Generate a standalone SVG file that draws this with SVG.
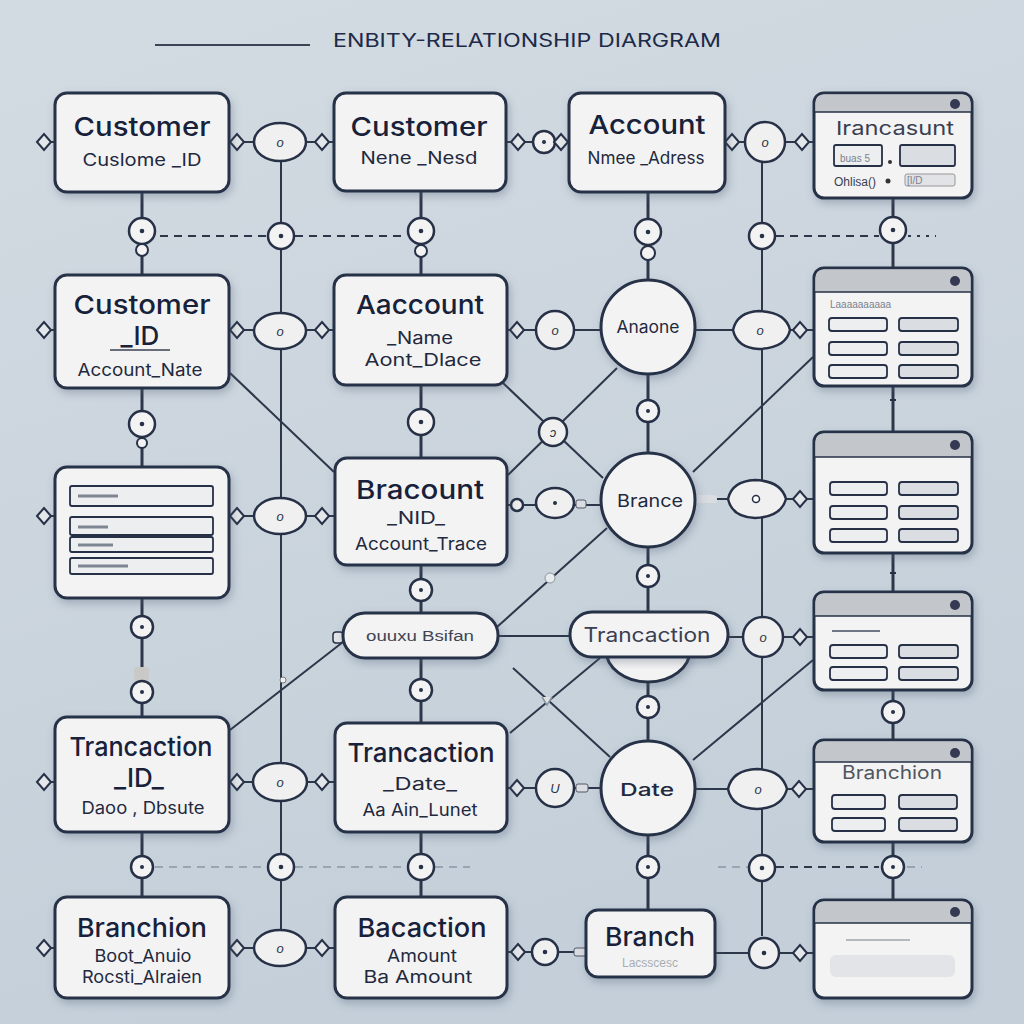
<svg xmlns="http://www.w3.org/2000/svg" xmlns:xlink="http://www.w3.org/1999/xlink" width="1024" height="1024" viewBox="0 0 1024 1024">
<defs>
<linearGradient id="bg" x1="0" y1="0" x2="0.3" y2="1">
<stop offset="0" stop-color="#d3dbe2"/>
<stop offset="1" stop-color="#c4cfd9"/>
</linearGradient>
<filter id="sh" x="-15%" y="-15%" width="135%" height="140%">
<feDropShadow dx="2" dy="4" stdDeviation="4" flood-color="#4f6075" flood-opacity="0.35"/>
</filter>
<path id="dm" d="M-7 0 L0 -8 L7 0 L0 8Z" fill="#e4e7ea" stroke="#263046" stroke-width="2"/>
<g id="c13"><circle r="13" fill="#f3f3f3" stroke="#263046" stroke-width="2.5"/><circle r="2.3" fill="#263046"/></g>
<g id="c11"><circle r="11" fill="#f3f3f3" stroke="#263046" stroke-width="2.5"/><circle r="2" fill="#263046"/></g>
<style>
.box{fill:#f3f3f3;stroke:#263046;stroke-width:3;filter:url(#sh)}
.bar{fill:#c3c7cc}
.ln{stroke:#2d374a;stroke-width:2;fill:none}
.thick{stroke-width:3}
.dash{stroke-dasharray:8 6}
.dot{stroke-dasharray:3 6}
.faint{stroke:#8a96a5;stroke-width:1.5}
.cn{fill:#f0f0f0;stroke:#263046;stroke-width:2.5}
.inp{fill:#eceef0;stroke:#263046;stroke-width:1.8}
.inp2{fill:#dadde1;stroke:#263046;stroke-width:1.8}
.h{font-family:Inter,"Liberation Sans",sans-serif;font-weight:500;fill:#17213a;text-anchor:middle;font-size:26px}
.s{font-family:Inter,"Liberation Sans",sans-serif;fill:#1f2940;text-anchor:middle;font-size:17px}
.o{font-family:"Liberation Sans",sans-serif;font-size:13px;fill:#2a3346;text-anchor:middle;font-style:italic}
.w{font-family:"Liberation Sans",sans-serif;fill:#7b828c;font-size:10px}
</style>
</defs>
<rect width="1024" height="1024" fill="url(#bg)"/>

<g id="title">
<line x1="155" y1="45" x2="310" y2="45" stroke="#3a4457" stroke-width="2"/>
<text x="333" y="47" font-family="Inter,'Liberation Sans',sans-serif" font-size="18" fill="#1d2a48" textLength="388" lengthAdjust="spacingAndGlyphs">ENBITY-RELATIONSHIP DIARGRAM</text>
</g>

<g id="connectors">
<path class="ln thick" d="M142 192V275 M142 388V467 M142 598V717 M142 832V897 M421 191V275 M421 385V458 M421 565V613 M421 658V723 M421 832V897 M648 192V280 M648 374V453 M648 547V612 M648 682V741 M648 835V910 M893 198V268 M893 386V432 M893 553V592 M893 690V740 M893 842V900"/>
<path class="ln" d="M281 161V930 M762 162V936"/>
<path class="ln" d="M44 142H55 M229 142H334 M506 142H569 M725 142H814 M44 330H55 M229 330H334 M507 330H601 M695 330H814 M44 516H55 M229 516H335 M507 505H601 M695 499H814 M498 636H570 M728 637H814 M44 782H55 M229 782H335 M507 788H601 M695 789H814 M44 948H55 M229 948H335 M507 952H586 M715 953H814"/>
<path class="ln" d="M230 373L334 472 M503 383L603 478 M617 368L508 475 M813 357L693 472 M607 528L497 627 M343 642L230 730 M600 658L510 733 M513 668L610 757 M813 660L693 760"/>
<path class="ln dash" d="M160 236H267 M295 236H407 M776 236H879 M776 867H879"/>
<path class="ln dot" d="M908 236H936"/>
<path class="ln dash faint" d="M155 867H267 M295 867H407 M435 867H470 M718 867H748 M907 867H922"/>

<use xlink:href="#dm" x="44" y="142"/><use xlink:href="#dm" x="44" y="330"/><use xlink:href="#dm" x="44" y="516"/><use xlink:href="#dm" x="44" y="782"/><use xlink:href="#dm" x="44" y="948"/>
<g>
<use xlink:href="#dm" x="237" y="142"/><use xlink:href="#dm" x="322" y="142"/>
<ellipse class="cn" cx="280" cy="142" rx="26" ry="19"/><text class="o" x="280" y="147">o</text>
<use xlink:href="#dm" x="237" y="330"/><use xlink:href="#dm" x="322" y="330"/>
<ellipse class="cn" cx="280" cy="331" rx="26" ry="18"/><text class="o" x="280" y="336">o</text>
<use xlink:href="#dm" x="237" y="516"/><use xlink:href="#dm" x="322" y="516"/>
<ellipse class="cn" cx="280" cy="516" rx="26" ry="18"/><text class="o" x="280" y="521">o</text>
<use xlink:href="#dm" x="237" y="782"/><use xlink:href="#dm" x="322" y="782"/>
<ellipse class="cn" cx="280" cy="782" rx="27" ry="19"/><text class="o" x="280" y="787">o</text>
<use xlink:href="#dm" x="237" y="948"/><use xlink:href="#dm" x="322" y="948"/>
<ellipse class="cn" cx="280" cy="948" rx="26" ry="18"/><text class="o" x="280" y="953">o</text>
</g>
<g>
<use xlink:href="#dm" x="518" y="142"/><circle class="cn" cx="544" cy="142" r="11"/><circle cx="544" cy="142" r="2" fill="#263046"/><use xlink:href="#dm" x="561" y="142"/>
<use xlink:href="#dm" x="517" y="330"/><circle class="cn" cx="555" cy="330" r="19"/><text class="o" x="555" y="335">o</text>
<circle class="cn" cx="517" cy="505" r="6"/><rect x="576" y="500" width="10" height="8" rx="2" fill="#d9dce0" stroke="#556" stroke-width="1"/><ellipse class="cn" cx="555" cy="503" rx="19" ry="15"/><circle cx="555" cy="503" r="2" fill="#263046"/>
<use xlink:href="#dm" x="517" y="788"/><rect x="576" y="784" width="12" height="8" rx="2" fill="#d9dce0" stroke="#556" stroke-width="1"/><circle class="cn" cx="555" cy="788" r="19"/><text class="o" x="555" y="793">U</text>
<use xlink:href="#dm" x="518" y="952"/><rect x="574" y="948" width="12" height="8" rx="2" fill="#d9dce0" stroke="#556" stroke-width="1"/><circle class="cn" cx="545" cy="952" r="13"/><circle cx="545" cy="952" r="2.3" fill="#263046"/>
<rect x="333" y="632" width="10" height="11" rx="3" fill="#e4e6e9" stroke="#263046" stroke-width="1.5"/>
</g>
<g>
<use xlink:href="#dm" x="732" y="142"/><circle class="cn" cx="765" cy="142" r="20"/><text class="o" x="765" y="147">o</text><use xlink:href="#dm" x="802" y="142"/>
<path class="cn" d="M733 330 Q737 312 759 311 Q786 312 790 330 Q786 348 759 349 Q737 348 733 330Z"/><text class="o" x="760" y="335">o</text><use xlink:href="#dm" x="800" y="330"/>
<rect x="695" y="495" width="22" height="8" rx="2" fill="#d9dce0"/>
<path class="cn" d="M728 499 Q732 481 755 480 Q781 481 786 499 Q781 517 755 518 Q732 517 728 499Z"/><circle cx="756" cy="499" r="3.5" fill="#fff" stroke="#263046" stroke-width="1.5"/><use xlink:href="#dm" x="800" y="499"/>
<circle class="cn" cx="763" cy="637" r="20"/><text class="o" x="763" y="642">o</text><use xlink:href="#dm" x="800" y="637"/>
<path class="cn" d="M728 789 Q732 770 757 769 Q782 770 787 789 Q782 808 757 809 Q732 808 728 789Z"/><text class="o" x="758" y="794">o</text><use xlink:href="#dm" x="799" y="789"/>
<circle class="cn" cx="764" cy="953" r="15"/><circle cx="764" cy="953" r="2.3" fill="#263046"/><use xlink:href="#dm" x="800" y="953"/>
</g>
<use xlink:href="#c13" x="142" y="231"/><circle cx="142" cy="250" r="6" fill="#f3f3f3" stroke="#263046" stroke-width="2"/>
<use xlink:href="#c13" x="281" y="236"/>
<use xlink:href="#c13" x="421" y="231"/><circle cx="421" cy="251" r="6" fill="#f3f3f3" stroke="#263046" stroke-width="2"/>
<use xlink:href="#c13" x="648" y="232"/><circle cx="648" cy="253" r="7" fill="#f3f3f3" stroke="#263046" stroke-width="2"/>
<use xlink:href="#c13" x="762" y="236"/>
<use xlink:href="#c13" x="893" y="230"/>
<use xlink:href="#c13" x="142" y="424"/><circle cx="142" cy="443" r="5" fill="#f3f3f3" stroke="#263046" stroke-width="2"/>
<use xlink:href="#c13" x="421" y="422"/>
<use xlink:href="#c11" x="648" y="411"/>
<g><circle class="cn" cx="553" cy="432" r="14"/><text class="o" x="553" y="437">ↄ</text></g>
<path d="M890 400h6M890 573h6" stroke="#263046" stroke-width="2"/>
<use xlink:href="#c11" x="142" y="627"/>
<rect x="134" y="667" width="15" height="15" rx="4" fill="#c9c9c7"/>
<use xlink:href="#c11" x="142" y="692"/>
<use xlink:href="#c11" x="421" y="590"/>
<use xlink:href="#c11" x="648" y="576"/>
<circle cx="550" cy="578" r="5" fill="#e8eaec" stroke="#8a95a3" stroke-width="1"/>
<circle cx="283" cy="680" r="3" fill="#f0f0f0" stroke="#777" stroke-width="1"/>
<path d="M542 697 l5 8 l5 -8" fill="#e0e0e0" stroke="#8a95a3" stroke-width="1.5"/>
<use xlink:href="#c11" x="421" y="690"/>
<use xlink:href="#c11" x="648" y="707"/>
<use xlink:href="#c11" x="893" y="712"/>
<use xlink:href="#c11" x="142" y="867"/>
<use xlink:href="#c13" x="281" y="867"/>
<use xlink:href="#c13" x="421" y="867"/>
<use xlink:href="#c11" x="648" y="867"/>
<use xlink:href="#c13" x="762" y="868"/>
<use xlink:href="#c11" x="893" y="867"/>
</g>

<g id="node-a1"><rect class="box" x="55" y="93" width="174" height="99" rx="12"/>
<text class="h" x="142" y="136" textLength="137" lengthAdjust="spacingAndGlyphs">Customer</text>
<text class="s" x="142" y="166" textLength="119" lengthAdjust="spacingAndGlyphs">Cuslome _ID</text></g>

<g id="node-b1"><rect class="box" x="334" y="93" width="172" height="98" rx="12"/>
<text class="h" x="419" y="136" textLength="137" lengthAdjust="spacingAndGlyphs">Customer</text>
<text class="s" x="419" y="164" textLength="117" lengthAdjust="spacingAndGlyphs">Nene _Nesd</text></g>

<g id="node-c1"><rect class="box" x="569" y="93" width="156" height="99" rx="12"/>
<text class="h" x="647" y="134" textLength="117" lengthAdjust="spacingAndGlyphs">Account</text>
<text class="s" x="646" y="164" textLength="117" lengthAdjust="spacingAndGlyphs">Nmee _Adress</text></g>

<g id="node-d1"><rect class="box" x="814" y="93" width="158" height="105" rx="10"/>
<path class="bar" d="M815.5 112 V103 Q815.5 94.5 824 94.5 H962 Q970.5 94.5 970.5 103 V112Z"/>
<line x1="815" y1="112" x2="971" y2="112" stroke="#263046" stroke-width="1.5"/>
<circle cx="955" cy="104" r="5" fill="#353a52"/>
<text x="895" y="135" font-family="Inter,'Liberation Sans',sans-serif" font-size="19" fill="#3a4052" text-anchor="middle" textLength="118" lengthAdjust="spacingAndGlyphs">Irancasunt</text>
<rect class="inp" x="834" y="145" width="48" height="21" rx="2" stroke-width="1.3"/>
<text class="w" x="840" y="162" fill="#555">buas 5</text>
<circle cx="890" cy="162" r="2" fill="#333"/>
<rect class="inp2" x="900" y="145" width="55" height="21" rx="2" stroke-width="1.3"/>
<text x="834" y="186" font-family="'Liberation Sans',sans-serif" font-size="12" fill="#3a4052">Ohlisa()</text>
<circle cx="888" cy="181" r="2.5" fill="#333"/>
<rect x="905" y="174" width="50" height="12" rx="2" fill="#e1e3e6" stroke="#999" stroke-width="1"/>
<text class="w" x="907" y="184">[I/D</text>
</g>

<g id="node-a2"><rect class="box" x="55" y="275" width="174" height="113" rx="12"/>
<text class="h" x="142" y="314" textLength="137" lengthAdjust="spacingAndGlyphs">Customer</text>
<text class="h" x="140" y="345" font-size="24" font-weight="400">_ID</text>
<line x1="110" y1="350" x2="170" y2="350" stroke="#3a4052" stroke-width="1.5"/>
<text class="s" x="140" y="376" textLength="125" lengthAdjust="spacingAndGlyphs">Account_Nate</text></g>

<g id="node-b2"><rect class="box" x="334" y="275" width="173" height="110" rx="12"/>
<text class="h" x="420" y="314" textLength="128" lengthAdjust="spacingAndGlyphs">Aaccount</text>
<text class="s" x="420" y="344" font-size="20" textLength="66" lengthAdjust="spacingAndGlyphs">_Name</text>
<text class="s" x="423" y="366" font-size="16" textLength="117" lengthAdjust="spacingAndGlyphs">Aont_Dlace</text></g>

<g id="node-c2"><circle class="box" cx="648" cy="327" r="47"/>
<text class="s" x="648" y="333" textLength="63" lengthAdjust="spacingAndGlyphs">Anaone</text></g>

<g id="node-d2"><rect class="box" x="814" y="268" width="158" height="118" rx="10"/>
<path class="bar" d="M815.5 292 V278 Q815.5 269.5 824 269.5 H962 Q970.5 269.5 970.5 278 V292Z"/>
<line x1="815" y1="292" x2="971" y2="292" stroke="#263046" stroke-width="1.5"/>
<circle cx="955" cy="281" r="5" fill="#353a52"/>
<text class="w" x="830" y="308">Laaaaaaaaaa</text>
<rect class="inp" x="829" y="318" width="58" height="13" rx="3"/><rect class="inp2" x="899" y="318" width="59" height="13" rx="3"/>
<rect class="inp" x="829" y="342" width="58" height="13" rx="3"/><rect class="inp2" x="899" y="342" width="59" height="13" rx="3"/>
<rect class="inp" x="829" y="365" width="58" height="13" rx="3"/><rect class="inp2" x="899" y="365" width="59" height="13" rx="3"/>
</g>

<g id="node-a3"><rect class="box" x="55" y="467" width="174" height="131" rx="12"/>
<rect class="inp" x="70" y="486" width="143" height="20" rx="2"/>
<rect class="inp" x="70" y="517" width="143" height="18" rx="2"/>
<rect class="inp" x="70" y="537" width="143" height="15" rx="2"/>
<rect class="inp" x="70" y="558" width="143" height="16" rx="2"/>
<path d="M78 496h40M78 527h30M78 545h35M78 566h50" stroke="#7e8694" stroke-width="3"/>
</g>

<g id="node-b3"><rect class="box" x="335" y="458" width="172" height="107" rx="12"/>
<text class="h" x="420" y="499" textLength="128" lengthAdjust="spacingAndGlyphs">Bracount</text>
<text class="s" x="416" y="524" font-size="20" textLength="58" lengthAdjust="spacingAndGlyphs">_NID_</text>
<text class="s" x="421" y="550" textLength="132" lengthAdjust="spacingAndGlyphs">Account_Trace</text></g>

<g id="node-c3"><circle class="box" cx="648" cy="500" r="47"/>
<text class="s" x="650" y="507" font-size="20" textLength="66" lengthAdjust="spacingAndGlyphs">Brance</text></g>

<g id="node-d3"><rect class="box" x="814" y="432" width="158" height="121" rx="10"/>
<path class="bar" d="M815.5 457 V442 Q815.5 433.5 824 433.5 H962 Q970.5 433.5 970.5 442 V457Z"/>
<line x1="815" y1="457" x2="971" y2="457" stroke="#263046" stroke-width="1.5"/>
<circle cx="955" cy="445" r="5" fill="#353a52"/>
<rect class="inp" x="830" y="482" width="57" height="13" rx="3"/><rect class="inp2" x="899" y="482" width="59" height="13" rx="3"/>
<rect class="inp" x="830" y="506" width="57" height="13" rx="3"/><rect class="inp2" x="899" y="506" width="59" height="13" rx="3"/>
<rect class="inp" x="830" y="529" width="57" height="13" rx="3"/><rect class="inp2" x="899" y="529" width="59" height="13" rx="3"/>
</g>

<g id="node-b4"><rect class="box" x="343" y="613" width="155" height="45" rx="22"/>
<text x="420" y="641" font-family="'Liberation Sans',sans-serif" font-size="14" fill="#3e4453" text-anchor="middle" textLength="108" lengthAdjust="spacingAndGlyphs">ouuxu Bsifan</text></g>

<g id="node-c4"><path class="box" d="M606 650 A42 32 0 0 0 690 650Z"/>
<rect class="box" x="570" y="612" width="158" height="45" rx="22"/>
<text x="647" y="642" font-family="Inter,'Liberation Sans',sans-serif" font-size="20" fill="#3a4052" text-anchor="middle" textLength="127" lengthAdjust="spacingAndGlyphs">Trancaction</text></g>

<g id="node-d4"><rect class="box" x="814" y="592" width="158" height="98" rx="10"/>
<path class="bar" d="M815.5 616 V602 Q815.5 593.5 824 593.5 H962 Q970.5 593.5 970.5 602 V616Z"/>
<line x1="815" y1="616" x2="971" y2="616" stroke="#263046" stroke-width="1.5"/>
<circle cx="955" cy="605" r="5" fill="#353a52"/>
<line x1="832" y1="631" x2="880" y2="631" stroke="#6f7784" stroke-width="2"/>
<rect class="inp" x="830" y="645" width="57" height="13" rx="3"/><rect class="inp2" x="899" y="645" width="59" height="13" rx="3"/>
<rect class="inp" x="830" y="667" width="57" height="13" rx="3"/><rect class="inp2" x="899" y="667" width="59" height="13" rx="3"/>
</g>

<g id="node-a4"><rect class="box" x="55" y="717" width="174" height="115" rx="12"/>
<text class="h" x="141" y="756" textLength="143" lengthAdjust="spacingAndGlyphs">Trancaction</text>
<text class="h" x="139" y="787" font-size="22" font-weight="400">_ID_</text>
<text class="s" x="143" y="814" textLength="123" lengthAdjust="spacingAndGlyphs">Daoo , Dbsute</text></g>

<g id="node-b5"><rect class="box" x="335" y="723" width="172" height="109" rx="12"/>
<text class="h" x="421" y="762" textLength="147" lengthAdjust="spacingAndGlyphs">Trancaction</text>
<text class="s" x="420" y="790" font-size="20" textLength="74" lengthAdjust="spacingAndGlyphs">_Date_</text>
<text class="s" x="420" y="816" font-size="16" textLength="115" lengthAdjust="spacingAndGlyphs">Aa Ain_Lunet</text></g>

<g id="node-c5"><circle class="box" cx="648" cy="788" r="47"/>
<text class="s" x="647" y="796" font-size="22" font-weight="500" fill="#17213a" textLength="54" lengthAdjust="spacingAndGlyphs">Date</text></g>

<g id="node-d5"><rect class="box" x="814" y="740" width="158" height="102" rx="10"/>
<path class="bar" d="M815.5 762 V750 Q815.5 741.5 824 741.5 H962 Q970.5 741.5 970.5 750 V762Z"/>
<line x1="815" y1="762" x2="971" y2="762" stroke="#263046" stroke-width="1.5"/>
<circle cx="955" cy="753" r="5" fill="#353a52"/>
<text x="892" y="779" font-family="Inter,'Liberation Sans',sans-serif" font-size="18" fill="#50565f" text-anchor="middle" textLength="100" lengthAdjust="spacingAndGlyphs">Branchion</text>
<rect class="inp" x="832" y="795" width="53" height="14" rx="3"/><rect class="inp2" x="899" y="795" width="58" height="14" rx="3"/>
<rect class="inp" x="832" y="818" width="53" height="13" rx="3"/><rect class="inp2" x="899" y="818" width="58" height="13" rx="3"/>
</g>

<g id="node-a5"><rect class="box" x="55" y="897" width="174" height="101" rx="12"/>
<text class="h" x="142" y="937" textLength="130" lengthAdjust="spacingAndGlyphs">Branchion</text>
<text class="s" x="143" y="962" textLength="97" lengthAdjust="spacingAndGlyphs">Boot_Anuio</text>
<text class="s" x="142" y="983" textLength="120" lengthAdjust="spacingAndGlyphs">Rocsti_Alraien</text></g>

<g id="node-b6"><rect class="box" x="335" y="897" width="172" height="101" rx="12"/>
<text class="h" x="422" y="937" textLength="129" lengthAdjust="spacingAndGlyphs">Bacaction</text>
<text class="s" x="422" y="962" font-size="19" textLength="70" lengthAdjust="spacingAndGlyphs">Amount</text>
<text class="s" x="418" y="983" textLength="109" lengthAdjust="spacingAndGlyphs">Ba Amount</text></g>

<g id="node-c6"><rect class="box" x="586" y="910" width="129" height="67" rx="12"/>
<text class="h" x="650" y="946" font-size="25" textLength="90" lengthAdjust="spacingAndGlyphs">Branch</text>
<text x="650" y="967" font-family="'Liberation Sans',sans-serif" font-size="12" fill="#a8adb4" text-anchor="middle">Lacsscesc</text></g>

<g id="node-d6"><rect class="box" x="814" y="900" width="158" height="98" rx="10"/>
<path class="bar" d="M815.5 923 V910 Q815.5 901.5 824 901.5 H962 Q970.5 901.5 970.5 910 V923Z"/>
<line x1="815" y1="923" x2="971" y2="923" stroke="#263046" stroke-width="1.5"/>
<circle cx="955" cy="912" r="5" fill="#353a52"/>
<line x1="846" y1="940" x2="910" y2="940" stroke="#b4b9c0" stroke-width="2"/>
<rect x="830" y="955" width="125" height="22" rx="6" fill="#e2e4e7"/>
</g>
</svg>
